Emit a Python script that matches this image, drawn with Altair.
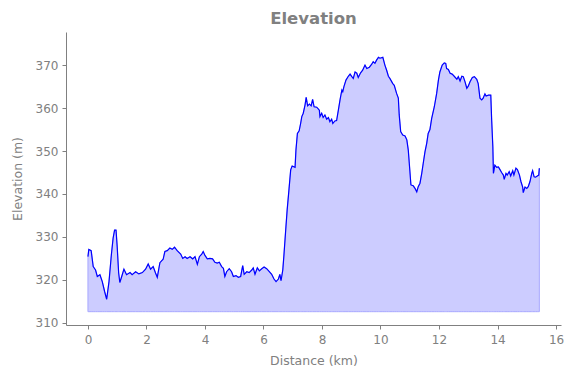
import altair as alt
import pandas as pd

distance_km = [
    0, 0.03, 0.11, 0.18, 0.26, 0.32, 0.41, 0.49, 0.57, 0.64, 0.72, 0.80, 0.86, 0.91, 0.96, 1.00,
    1.05, 1.09, 1.16, 1.23, 1.32, 1.44, 1.51, 1.63, 1.74, 1.86, 1.97, 2.06, 2.14, 2.23, 2.31, 2.37,
    2.46, 2.57, 2.63, 2.71, 2.80, 2.88, 2.96, 3.05, 3.17, 3.24, 3.32, 3.39, 3.49, 3.58, 3.66, 3.74,
    3.81, 3.89, 3.94, 4.00, 4.08, 4.17, 4.26, 4.34, 4.42, 4.49, 4.57, 4.63, 4.68, 4.74, 4.83, 4.91,
    4.97, 5.06, 5.14, 5.22, 5.29, 5.34, 5.43, 5.51, 5.60, 5.65, 5.71, 5.79, 5.86, 5.94, 6.02, 6.11,
    6.20, 6.28, 6.36, 6.43, 6.51, 6.56, 6.60, 6.66, 6.70, 6.76, 6.81, 6.87, 6.93, 6.98, 7.08, 7.11,
    7.16, 7.22, 7.27, 7.31, 7.36, 7.42, 7.46, 7.51, 7.57, 7.63, 7.68, 7.73, 7.82, 7.91, 7.93, 7.99,
    8.04, 8.10, 8.16, 8.22, 8.27, 8.33, 8.37, 8.44, 8.50, 8.56, 8.62, 8.68, 8.71, 8.75, 8.82, 8.90,
    8.96, 9.02, 9.07, 9.13, 9.19, 9.24, 9.32, 9.39, 9.47, 9.53, 9.62, 9.70, 9.75, 9.81, 9.87, 9.93,
    9.98, 10.08, 10.15, 10.21, 10.27, 10.32, 10.42, 10.47, 10.55, 10.61, 10.64, 10.69, 10.76, 10.84,
    10.90, 10.95, 10.98, 11.04, 11.12, 11.18, 11.24, 11.29, 11.35, 11.41, 11.46, 11.52, 11.58, 11.63,
    11.69, 11.75, 11.84, 11.92, 11.98, 12.03, 12.11, 12.18, 12.23, 12.26, 12.32, 12.38, 12.45, 12.52,
    12.61, 12.66, 12.72, 12.78, 12.83, 12.89, 12.95, 13.00, 13.06, 13.14, 13.21, 13.29, 13.34, 13.40,
    13.46, 13.51, 13.57, 13.61, 13.69, 13.77, 13.80, 13.84, 13.86, 13.91, 13.97, 14.03, 14.09, 14.14,
    14.20, 14.23, 14.29, 14.33, 14.40, 14.45, 14.52, 14.56, 14.63, 14.68, 14.75, 14.80, 14.86, 14.88,
    14.94, 15.00, 15.05, 15.11, 15.17, 15.20, 15.25, 15.30, 15.36, 15.41, 15.43,
]

elevation_m = [
    325.4, 327.1, 326.8, 323.1, 322.3, 320.8, 321.2, 319.6, 317.3, 315.5, 319.6, 325.8, 329.7, 331.6, 331.6, 327.7,
    321.6, 319.4, 320.9, 322.5, 321.2, 321.7, 321.2, 321.9, 321.4, 321.7, 322.5, 323.7, 322.5, 323.1, 321.6, 320.6,
    324.0, 324.8, 326.6, 326.8, 327.4, 327.1, 327.6, 326.8, 326.0, 325.0, 325.4, 325.0, 325.4, 324.9, 325.4, 323.6,
    325.4, 326.0, 326.6, 325.7, 324.9, 325.0, 324.9, 324.1, 323.9, 324.1, 323.1, 322.7, 320.8, 321.9, 322.6, 321.9,
    320.8, 321.0, 320.6, 320.8, 323.3, 321.3, 321.9, 321.7, 322.3, 322.8, 321.3, 322.8, 322.1, 322.6, 323.0, 322.6,
    321.9, 321.3, 320.2, 319.6, 320.2, 321.3, 319.8, 322.3, 325.8, 331.6, 336.3, 340.9, 345.6, 346.5, 346.2, 350.2,
    354.1, 354.7, 356.4, 358.0, 358.8, 360.7, 362.5, 360.5, 360.9, 360.5, 362.0, 360.3, 360.2, 359.5, 358.0, 358.8,
    357.8, 358.4, 357.4, 357.8, 356.8, 357.4, 356.4, 357.0, 357.1, 359.5, 362.0, 364.2, 363.8, 365.0, 366.5, 367.4,
    367.9, 367.3, 366.9, 368.4, 368.1, 367.1, 368.2, 368.8, 370.0, 369.2, 369.5, 370.2, 370.8, 370.4, 371.2, 371.8,
    371.6, 371.8, 370.0, 368.8, 367.4, 366.9, 365.7, 365.3, 363.4, 362.3, 358.4, 354.5, 353.7, 353.5,
    352.6, 350.2, 347.5, 342.1, 341.9, 341.3, 340.5, 341.7, 342.5, 344.8, 347.1, 349.8, 351.8, 354.1,
    355.0, 357.6, 360.3, 363.4, 366.5, 368.4, 370.0, 370.5, 370.4, 369.2, 369.0, 368.1, 367.9, 367.4,
    366.7, 367.3, 366.3, 367.4, 367.3, 366.1, 364.6, 365.1, 366.1, 367.1, 367.3, 366.7, 365.7, 362.3,
    361.9, 362.3, 363.3, 362.8, 363.0, 363.0, 357.2, 351.0, 344.8, 346.7, 346.2, 346.3, 345.6, 345.0,
    344.4, 343.4, 344.8, 344.4, 345.2, 344.2, 345.4, 344.4, 346.0, 345.7, 344.4, 342.9, 341.6, 340.3,
    341.6, 341.3, 341.7, 342.9, 344.8, 345.4, 344.0, 343.9, 344.2, 344.4, 346.0,
]

BASELINE_M = 312.6

df = pd.DataFrame({"d": distance_km, "e": elevation_m})

FONT = "DejaVu Sans"
GRAY = "#808080"

xscale = alt.Scale(domain=[-0.75, 16.17], nice=False, zero=False)
yscale = alt.Scale(domain=[309.5, 377.7], nice=False, zero=False)

xaxis = alt.Axis(title="Distance (km)", values=list(range(0, 17, 2)), grid=False,
                 tickSize=4, labelPadding=5, titlePadding=9)
yaxis = alt.Axis(title="Elevation (m)", values=list(range(310, 371, 10)), grid=False,
                 tickSize=4, labelPadding=4, titlePadding=11)

base = alt.Chart(df)

area = base.mark_area(color="#ccccff", opacity=1, stroke="#a8a8ff", strokeWidth=1).encode(
    x=alt.X("d:Q", scale=xscale, axis=xaxis),
    y=alt.Y("e:Q", scale=yscale, axis=yaxis),
    y2=alt.datum(BASELINE_M),
)

line = base.mark_line(color="#0000ff", strokeWidth=1.2).encode(
    x=alt.X("d:Q", scale=xscale),
    y=alt.Y("e:Q", scale=yscale),
)

chart = (
    alt.layer(area, line)
    .properties(
        width=495,
        height=293,
        title=alt.TitleParams("Elevation", fontSize=16.5, fontWeight="bold", color=GRAY, font=FONT, offset=5),
        autosize=alt.AutoSizeParams(type="none"),
        padding={"left": 66, "top": 32, "right": 14, "bottom": 53},
    )
    .configure_view(stroke=None)
    .configure_axis(
        labelFont=FONT, titleFont=FONT, labelColor=GRAY, titleColor=GRAY,
        labelFontSize=12, titleFontSize=12.5, titleFontWeight="normal",
        domainColor=GRAY, tickColor=GRAY, domainWidth=1,
    )
)

chart.save("out.html", embed_options={"renderer": "svg", "actions": False})
